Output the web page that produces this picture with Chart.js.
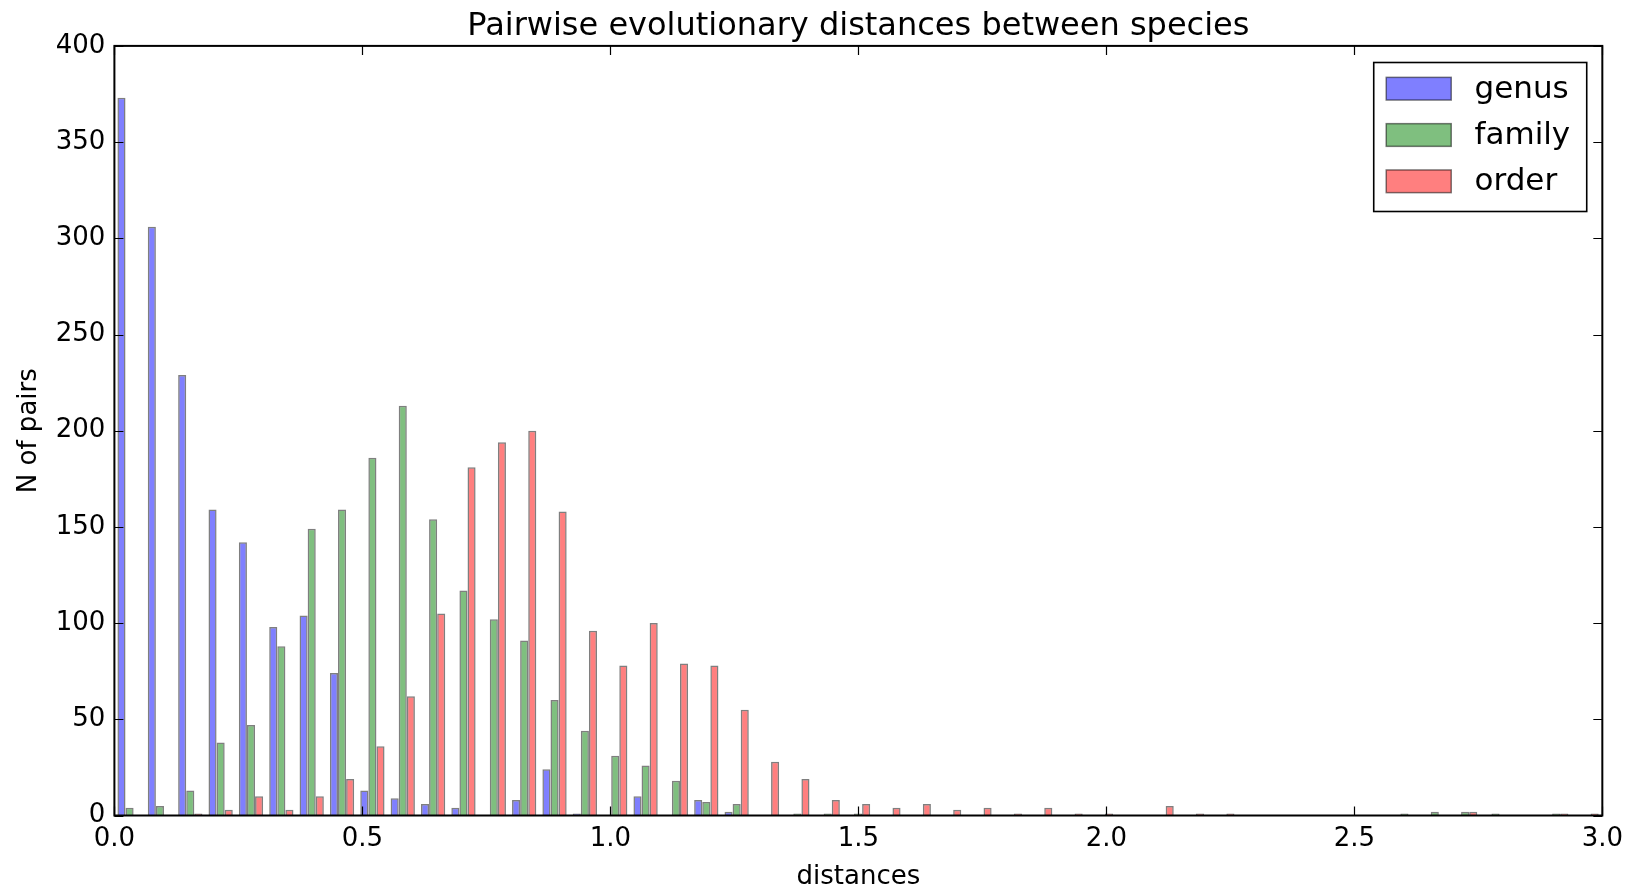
<!DOCTYPE html>
<html>
<head>
<meta charset="utf-8">
<script src="https://cdn.jsdelivr.net/npm/chart.js@4.4.0/dist/chart.umd.min.js"></script>
<style>
html,body{margin:0;padding:0;background:#fff;}
#wrap{width:1631px;height:888px;position:relative;}
</style>
</head>
<body>
<div id="wrap"><canvas id="c" width="1631" height="888"></canvas></div>
<script>
// ---- data (histogram counts per bin, 50 bins starting at 0) ----
const binStart = 0;
const binWidth = 0.0612;
const seriesNames = ['genus', 'family', 'order'];
const genus = [373, 306, 229, 159, 142, 98, 104, 74, 13, 9,
               6, 4, 0, 8, 24, 1, 0, 10, 0, 8,
               2, 0, 0, 0, 0, 0, 0, 0, 0, 0,
               0, 0, 0, 0, 0, 0, 0, 0, 0, 0,
               0, 0, 0, 0, 0, 0, 0, 0, 0, 0];
const family = [4, 5, 13, 38, 47, 88, 149, 159, 186, 213,
                154, 117, 102, 91, 60, 44, 31, 26, 18, 7,
                6, 0, 1, 1, 1, 0, 0, 0, 0, 0,
                0, 0, 0, 0, 0, 0, 0, 0, 0, 0,
                0, 0, 1, 2, 2, 1, 0, 1, 0, 0];
const order = [0, 0, 1, 3, 10, 3, 10, 19, 36, 62,
               105, 181, 194, 200, 158, 96, 78, 100, 79, 78,
               55, 28, 19, 8, 6, 4, 6, 3, 4, 1,
               4, 1, 1, 0, 5, 1, 1, 0, 0, 0,
               0, 0, 0, 0, 2, 0, 0, 1, 1, 0];
const xTickValues = [0, 0.5, 1.0, 1.5, 2.0, 2.5, 3.0];
const yTickValues = [0, 50, 100, 150, 200, 250, 300, 350, 400];

const FONT = "'DejaVu Sans', 'Liberation Sans', sans-serif";
const fills = ['rgba(0,0,255,0.5)', 'rgba(0,128,0,0.5)', 'rgba(255,0,0,0.5)'];
const edge = 'rgba(0,0,0,0.5)';

const seriesValues = [genus, family, order];
const datasets = seriesNames.map((name, k) => ({
  label: name,
  data: seriesValues[k].map((v, i) => ({ x: binStart + binWidth * (i + 0.5), y: v })),
  backgroundColor: fills[k],
  borderColor: edge,
  borderWidth: 1.5,
  categoryPercentage: 0.8,
  barPercentage: 1.0
}));

const frameAndLegend = {
  id: 'frameAndLegend',
  afterLayout(chart) {
    // center the title over the plot area (like matplotlib)
    if (chart.titleBlock) {
      chart.titleBlock.left = chart.chartArea.left;
      chart.titleBlock.right = chart.chartArea.right;
      chart.titleBlock.width = chart.chartArea.right - chart.chartArea.left;
    }
  },
  afterDraw(chart) {
    const { ctx, chartArea: ca, scales } = chart;
    const xs = scales.x, ys = scales.y;
    ctx.save();
    // inward ticks on all four sides
    ctx.strokeStyle = '#000';
    ctx.lineWidth = 1.2;
    const L = 9;
    ctx.beginPath();
    xTickValues.forEach(v => {
      const px = Math.round(xs.getPixelForValue(v)) + 0.5;
      ctx.moveTo(px, ca.bottom); ctx.lineTo(px, ca.bottom - L);
      ctx.moveTo(px, ca.top); ctx.lineTo(px, ca.top + L);
    });
    yTickValues.forEach(v => {
      const py = Math.round(ys.getPixelForValue(v)) + 0.5;
      ctx.moveTo(ca.left, py); ctx.lineTo(ca.left + L, py);
      ctx.moveTo(ca.right, py); ctx.lineTo(ca.right - L, py);
    });
    ctx.stroke();
    // frame
    ctx.lineWidth = 2;
    ctx.strokeRect(ca.left, ca.top, ca.right - ca.left, ca.bottom - ca.top);

    // legend box in upper right
    const bw = 213, bh = 149;
    const bx = ca.right - 15.6 - bw, by = ca.top + 16.6;
    ctx.fillStyle = '#fff';
    ctx.fillRect(bx, by, bw, bh);
    ctx.lineWidth = 1.6;
    ctx.strokeStyle = '#000';
    ctx.strokeRect(bx, by, bw, bh);
    ctx.font = '31px ' + FONT;
    ctx.textBaseline = 'middle';
    ctx.textAlign = 'left';
    chart.data.datasets.forEach((ds, i) => {
      const cy = by + 26.2 + i * 46.3;
      const px = bx + 12.5, pw = 65, ph = 22.7;
      ctx.fillStyle = ds.backgroundColor;
      ctx.fillRect(px, cy - ph / 2, pw, ph);
      ctx.strokeStyle = ds.borderColor;
      ctx.lineWidth = 1.5;
      ctx.strokeRect(px, cy - ph / 2, pw, ph);
      ctx.fillStyle = '#000';
      ctx.fillText(ds.label, bx + 100.8, cy + 1);
    });
    ctx.restore();
  }
};

Chart.defaults.color = '#000';
Chart.defaults.font.family = FONT;

new Chart(document.getElementById('c'), {
  type: 'bar',
  data: { datasets },
  options: {
    responsive: false,
    animation: false,
    layout: { padding: { left: 0, right: 28, top: 0, bottom: 0 } },
    plugins: {
      legend: { display: false },
      tooltip: { enabled: false },
      title: {
        display: true,
        text: 'Pairwise evolutionary distances between species',
        font: { family: FONT, size: 32, weight: 'normal', lineHeight: 1.2 },
        color: '#000',
        padding: { top: 7.5, bottom: 0 }
      }
    },
    scales: {
      x: {
        type: 'linear',
        min: 0,
        max: 3,
        offset: false,
        grid: { display: false, offset: false, drawTicks: false },
        border: { display: false },
        ticks: {
          stepSize: 0.5,
          autoSkip: false,
          maxRotation: 0,
          padding: 8,
          color: '#000',
          font: { family: FONT, size: 26 },
          callback: v => Number(v).toFixed(1)
        },
        title: {
          display: true,
          text: 'distances',
          color: '#000',
          font: { family: FONT, size: 26, lineHeight: 0.8 },
          padding: { top: 0, bottom: 0 }
        },
        afterFit: s => { s.height = 72.5; }
      },
      y: {
        type: 'linear',
        min: 0,
        max: 400,
        grid: { display: false, drawTicks: false },
        border: { display: false },
        ticks: {
          stepSize: 50,
          padding: 9,
          color: '#000',
          font: { family: FONT, size: 26 }
        },
        title: {
          display: true,
          text: 'N of pairs',
          color: '#000',
          font: { family: FONT, size: 26, lineHeight: 1 },
          padding: { top: 16, bottom: 0 }
        },
        afterFit: s => { s.width = 114.4; }
      }
    }
  },
  plugins: [frameAndLegend]
});
</script>
</body>
</html>
